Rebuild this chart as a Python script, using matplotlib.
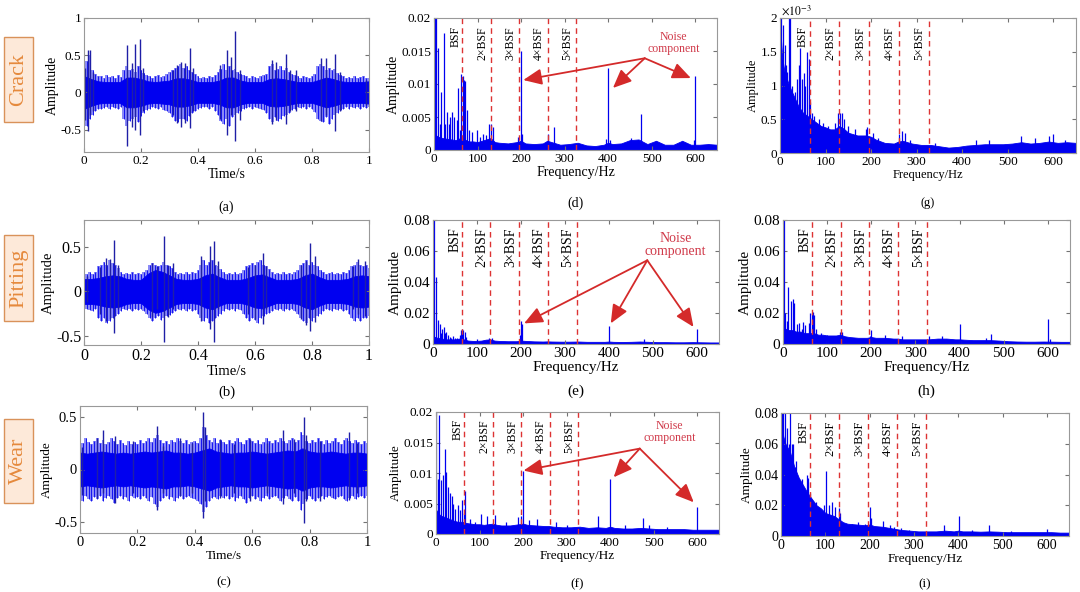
import numpy as np
import matplotlib
matplotlib.use('Agg')
import matplotlib.pyplot as plt
from matplotlib.ticker import FuncFormatter
from matplotlib.patches import Rectangle

# ---------------- time signals ----------------
# core = half width of the solid band (every 0.025 s),
# hairHi/hairLo = ragged edge of the band (every 0.01 s), spikes = the big impulses
coreT = np.linspace(0, 1, 41)
hairT = np.linspace(0, 1, 101)

crackCore = [0.22, 0.18, 0.15, 0.14, 0.14, 0.14, 0.2, 0.2, 0.18, 0.15,
             0.14, 0.15, 0.16, 0.19, 0.19, 0.17, 0.14, 0.14, 0.14, 0.16,
             0.2, 0.2, 0.16, 0.14, 0.14, 0.14, 0.18, 0.19, 0.18, 0.16,
             0.14, 0.14, 0.14, 0.17, 0.2, 0.18, 0.15, 0.14, 0.14, 0.14, 0.15]
crackHairHi = [0.35, 0.42, 0.5, 0.3, 0.25, 0.22,
               0.22, 0.2, 0.24, 0.21, 0.22, 0.2, 0.23, 0.21,
               0.3, 0.35, 0.3, 0.32, 0.28, 0.35, 0.3, 0.26, 0.24,
               0.22, 0.2, 0.22, 0.24, 0.21, 0.22, 0.25, 0.28,
               0.3, 0.33, 0.35, 0.38, 0.33, 0.35, 0.3, 0.28, 0.25,
               0.22, 0.2, 0.21, 0.2, 0.22, 0.21, 0.24, 0.28,
               0.32, 0.38, 0.3, 0.35, 0.3, 0.32, 0.28, 0.25, 0.23,
               0.22, 0.2, 0.22, 0.21, 0.2, 0.22, 0.23, 0.25,
               0.35, 0.38, 0.3, 0.32, 0.35, 0.3, 0.33, 0.28, 0.25,
               0.24, 0.22, 0.2, 0.22, 0.21, 0.2, 0.22, 0.25,
               0.35, 0.38, 0.35, 0.3, 0.33, 0.3, 0.32, 0.26, 0.24,
               0.22, 0.2, 0.21, 0.2, 0.22, 0.2, 0.21, 0.22, 0.2, 0.2]
crackHairLo = [-0.4, -0.45, -0.35, -0.3, -0.25, -0.22,
               -0.22, -0.21, -0.2, -0.22, -0.2, -0.21, -0.22, -0.2,
               -0.35, -0.45, -0.38, -0.35, -0.33, -0.4, -0.32, -0.28, -0.24,
               -0.22, -0.2, -0.21, -0.22, -0.2, -0.23, -0.25, -0.28,
               -0.33, -0.38, -0.4, -0.36, -0.35, -0.38, -0.32, -0.28, -0.25,
               -0.22, -0.21, -0.2, -0.2, -0.22, -0.2, -0.25, -0.3,
               -0.38, -0.42, -0.35, -0.45, -0.33, -0.3, -0.28, -0.25, -0.22,
               -0.21, -0.2, -0.22, -0.2, -0.21, -0.22, -0.24, -0.28,
               -0.35, -0.4, -0.33, -0.38, -0.35, -0.32, -0.3, -0.27, -0.24,
               -0.22, -0.2, -0.21, -0.2, -0.22, -0.2, -0.22, -0.26,
               -0.36, -0.38, -0.4, -0.33, -0.42, -0.35, -0.3, -0.27, -0.24,
               -0.22, -0.2, -0.22, -0.2, -0.21, -0.2, -0.22, -0.2, -0.21, -0.2]
crackSpikeT = [0.004, 0.015, 0.02, 0.03, 0.15, 0.167, 0.18, 0.196, 0.208, 0.313,
               0.325, 0.342, 0.354, 0.371, 0.383, 0.477, 0.5, 0.515, 0.53, 0.547,
               0.658, 0.675, 0.708, 0.722, 0.745, 0.833, 0.85, 0.88, 0.897, 0.99]
crackSpikeUp = [0.33, 0.57, 0.57, 0.28, 0.64, 0.39, 0.65, 0.72, 0.33, 0.3,
                0.37, 0.41, 0.39, 0.6, 0.33, 0.37, 0.57, 0.48, 0.83, 0.3,
                0.43, 0.41, 0.51, 0.3, 0.3, 0.46, 0.46, 0.51, 0.28, 0.17]
crackSpikeDown = [-0.37, -0.52, -0.3, -0.25, -0.72, -0.46, -0.5, -0.57, -0.25, -0.3,
                  -0.41, -0.46, -0.41, -0.48, -0.25, -0.35, -0.57, -0.3, -0.65, -0.37,
                  -0.43, -0.37, -0.43, -0.25, -0.25, -0.39, -0.3, -0.52, -0.25, -0.17]

pittingCore = [0.14, 0.14, 0.15, 0.17, 0.18, 0.17, 0.14, 0.13, 0.13, 0.2,
               0.24, 0.22, 0.18, 0.14, 0.13, 0.13, 0.14, 0.18, 0.2, 0.16,
               0.13, 0.13, 0.13, 0.15, 0.18, 0.19, 0.16, 0.13, 0.13, 0.13,
               0.14, 0.18, 0.2, 0.16, 0.13, 0.13, 0.13, 0.14, 0.17, 0.18, 0.17]
pittingHairHi = [0.22, 0.2, 0.22, 0.2, 0.22,
                 0.28, 0.3, 0.33, 0.3, 0.35, 0.32, 0.3, 0.26,
                 0.22, 0.2, 0.21, 0.2, 0.22, 0.2, 0.21, 0.2, 0.22, 0.24,
                 0.3, 0.32, 0.3, 0.28, 0.3, 0.33, 0.3, 0.28, 0.26,
                 0.22, 0.2, 0.21, 0.2, 0.22, 0.2, 0.22, 0.21, 0.24,
                 0.3, 0.35, 0.3, 0.33, 0.35, 0.3, 0.28, 0.25,
                 0.22, 0.2, 0.21, 0.2, 0.22, 0.2, 0.21, 0.24,
                 0.28, 0.3, 0.32, 0.3, 0.33, 0.35, 0.3, 0.28, 0.25,
                 0.22, 0.2, 0.21, 0.2, 0.22, 0.2, 0.21, 0.2, 0.22, 0.24,
                 0.3, 0.32, 0.35, 0.3, 0.33, 0.3, 0.28, 0.24,
                 0.22, 0.2, 0.21, 0.22, 0.2, 0.21, 0.2, 0.22, 0.21, 0.24,
                 0.28, 0.3, 0.33, 0.3, 0.28, 0.3, 0.26]
pittingHairLo = [-0.22, -0.2, -0.21, -0.22, -0.2,
                 -0.3, -0.33, -0.3, -0.35, -0.33, -0.3, -0.28, -0.25,
                 -0.22, -0.2, -0.21, -0.2, -0.22, -0.2, -0.21, -0.2, -0.22, -0.25,
                 -0.3, -0.33, -0.3, -0.28, -0.32, -0.3, -0.28, -0.26, -0.24,
                 -0.22, -0.2, -0.21, -0.2, -0.22, -0.2, -0.22, -0.21, -0.25,
                 -0.3, -0.33, -0.3, -0.35, -0.33, -0.3, -0.28, -0.25,
                 -0.22, -0.2, -0.21, -0.2, -0.22, -0.2, -0.21, -0.25,
                 -0.3, -0.33, -0.3, -0.32, -0.35, -0.3, -0.28, -0.25, -0.24,
                 -0.22, -0.2, -0.21, -0.2, -0.22, -0.2, -0.21, -0.2, -0.22, -0.25,
                 -0.3, -0.33, -0.35, -0.3, -0.33, -0.3, -0.28, -0.25,
                 -0.22, -0.2, -0.21, -0.22, -0.2, -0.21, -0.2, -0.22, -0.21, -0.25,
                 -0.3, -0.33, -0.3, -0.33, -0.3, -0.3, -0.28]
pittingSpikeT = [0.012, 0.056, 0.077, 0.091, 0.105, 0.12, 0.237, 0.255, 0.282, 0.296,
                 0.313, 0.412, 0.442, 0.457, 0.47, 0.576, 0.6, 0.629, 0.64, 0.763,
                 0.78, 0.792, 0.81, 0.944, 0.961, 0.985]
pittingSpikeUp = [0.17, 0.27, 0.38, 0.36, 0.58, 0.3, 0.32, 0.29, 0.62, 0.3,
                  0.32, 0.4, 0.51, 0.57, 0.34, 0.27, 0.3, 0.43, 0.29, 0.3,
                  0.34, 0.54, 0.4, 0.29, 0.36, 0.34]
pittingSpikeDown = [-0.12, -0.25, -0.33, -0.31, -0.47, -0.2, -0.29, -0.2, -0.57, -0.29,
                    -0.2, -0.33, -0.42, -0.57, -0.2, -0.25, -0.31, -0.36, -0.2, -0.31,
                    -0.38, -0.44, -0.34, -0.2, -0.25, -0.27]

wearCore = [0.16, 0.15, 0.16, 0.17, 0.16, 0.15, 0.16, 0.15, 0.16, 0.17,
            0.16, 0.17, 0.18, 0.16, 0.16, 0.15, 0.16, 0.18, 0.2, 0.17,
            0.16, 0.15, 0.16, 0.16, 0.17, 0.16, 0.15, 0.16, 0.17, 0.18,
            0.17, 0.2, 0.17, 0.16, 0.16, 0.17, 0.16, 0.15, 0.16, 0.16, 0.15]
wearHairHi = [0.28, 0.25, 0.3, 0.26, 0.24, 0.27, 0.3, 0.25, 0.28, 0.24,
              0.26, 0.3, 0.27, 0.24, 0.28, 0.25, 0.23, 0.27, 0.24, 0.26,
              0.24, 0.28, 0.25, 0.27, 0.3, 0.26, 0.3, 0.33, 0.28, 0.25,
              0.27, 0.24, 0.28, 0.26, 0.3, 0.27, 0.25, 0.28, 0.24, 0.26,
              0.27, 0.25, 0.3, 0.4, 0.33, 0.28, 0.26, 0.3, 0.25, 0.28,
              0.26, 0.24, 0.28, 0.25, 0.27, 0.3, 0.26, 0.24, 0.28, 0.3,
              0.27, 0.25, 0.28, 0.24, 0.26, 0.3, 0.27, 0.25, 0.28, 0.26,
              0.3, 0.27, 0.25, 0.28, 0.3, 0.26, 0.28, 0.35, 0.33, 0.27,
              0.25, 0.28, 0.26, 0.3, 0.27, 0.24, 0.28, 0.25, 0.27, 0.3,
              0.26, 0.24, 0.28, 0.3, 0.27, 0.25, 0.28, 0.26, 0.24, 0.27, 0.25]
wearHairLo = [-0.27, -0.3, -0.25, -0.28, -0.3, -0.26, -0.28, -0.25, -0.3, -0.27,
              -0.25, -0.28, -0.32, -0.27, -0.25, -0.28, -0.26, -0.3, -0.25, -0.27,
              -0.26, -0.28, -0.25, -0.27, -0.3, -0.26, -0.33, -0.35, -0.3, -0.27,
              -0.25, -0.28, -0.26, -0.3, -0.27, -0.25, -0.28, -0.26, -0.25, -0.27,
              -0.28, -0.3, -0.33, -0.4, -0.35, -0.3, -0.27, -0.26, -0.28, -0.25,
              -0.27, -0.25, -0.28, -0.26, -0.3, -0.27, -0.25, -0.28, -0.32, -0.27,
              -0.25, -0.28, -0.26, -0.3, -0.27, -0.25, -0.28, -0.26, -0.25, -0.27,
              -0.3, -0.27, -0.25, -0.28, -0.3, -0.26, -0.3, -0.38, -0.33, -0.28,
              -0.25, -0.28, -0.3, -0.27, -0.25, -0.28, -0.26, -0.25, -0.27, -0.28,
              -0.26, -0.25, -0.28, -0.3, -0.27, -0.25, -0.28, -0.26, -0.25, -0.27, -0.25]
wearSpikeT = [0.006, 0.058, 0.081, 0.122, 0.186, 0.267, 0.29, 0.349, 0.39, 0.43,
              0.436, 0.488, 0.535, 0.593, 0.651, 0.709, 0.744, 0.779, 0.788, 0.837,
              0.936, 0.965]
wearSpikeUp = [0.21, 0.3, 0.37, 0.32, 0.27, 0.41, 0.22, 0.3, 0.25, 0.54,
               0.4, 0.29, 0.24, 0.29, 0.25, 0.37, 0.29, 0.5, 0.33, 0.27,
               0.35, 0.25]
wearSpikeDown = [-0.24, -0.27, -0.22, -0.32, -0.22, -0.38, -0.22, -0.25, -0.22, -0.46,
                 -0.3, -0.27, -0.22, -0.3, -0.22, -0.33, -0.22, -0.51, -0.3, -0.3,
                 -0.29, -0.22]

# ---------------- spectra (noise floor + spectral lines) ----------------
floorF = [0, 5, 10, 20, 30, 40, 50, 60, 70, 80,
          90, 100, 110, 120, 130, 140, 150, 170, 190, 200,
          210, 230, 250, 260, 270, 290, 310, 330, 350, 370,
          390, 400, 410, 430, 450, 470, 490, 510, 530, 550,
          570, 590, 610, 630, 650]

crackSpecFloor = [0.003, 0.0022, 0.002, 0.0018, 0.0017, 0.0016, 0.0015, 0.0018, 0.0016, 0.0013,
                  0.0013, 0.0012, 0.0014, 0.0016, 0.0018, 0.0012, 0.0011, 0.001, 0.0012, 0.0014,
                  0.001, 0.0009, 0.001, 0.0014, 0.0012, 0.0008, 0.0009, 0.0011, 0.0007, 0.0006,
                  0.0008, 0.0011, 0.0009, 0.001, 0.0015, 0.0016, 0.0009, 0.0014, 0.0008, 0.0008,
                  0.0014, 0.0008, 0.0008, 0.0009, 0.0008]
crackSpecF = [2, 5, 10, 14, 17, 22, 26, 30, 34, 37,
              42, 47, 52, 55, 59, 63, 66, 69, 72, 76,
              80, 88, 98, 106, 113, 120, 126, 130, 135, 192,
              199, 203, 262, 275, 395, 400, 405, 452, 475, 598, 600]
crackSpecA = [0.021, 0.0205, 0.0155, 0.004, 0.0088, 0.0177, 0.004, 0.0057, 0.004, 0.005,
              0.0057, 0.005, 0.0045, 0.0094, 0.003, 0.0115, 0.0112, 0.0106, 0.0105, 0.006,
              0.003, 0.0028, 0.003, 0.002, 0.0025, 0.0022, 0.004, 0.004, 0.0035, 0.002,
              0.015, 0.0025, 0.0025, 0.0035, 0.0016, 0.0125, 0.0015, 0.0018, 0.0055, 0.0015, 0.0112]

pittingSpecFloor = [0.005, 0.0045, 0.004, 0.0035, 0.003, 0.003, 0.003, 0.0035, 0.003, 0.0022,
                    0.002, 0.002, 0.0022, 0.0028, 0.003, 0.0022, 0.002, 0.0018, 0.0018, 0.0022,
                    0.002, 0.0017, 0.0016, 0.0017, 0.0016, 0.0015, 0.0015, 0.0016, 0.0014, 0.0014,
                    0.0014, 0.0016, 0.0014, 0.0013, 0.0014, 0.0016, 0.0014, 0.0012, 0.0012, 0.0011,
                    0.0011, 0.0012, 0.0011, 0.001, 0.001]
pittingSpecF = [1, 3, 7, 11, 15, 18, 21, 24, 27, 30,
                34, 38, 42, 45, 50, 55, 62, 64, 67, 69,
                72, 75, 100, 128, 133, 198, 200, 203, 400, 480, 600]
pittingSpecA = [0.085, 0.08, 0.043, 0.0155, 0.013, 0.007, 0.010, 0.011, 0.007, 0.008,
                0.006, 0.0047, 0.004, 0.005, 0.004, 0.004, 0.006, 0.009, 0.0095, 0.009,
                0.008, 0.0047, 0.003, 0.004, 0.0038, 0.006, 0.0148, 0.013, 0.0118, 0.003, 0.0095]

wearSpecFloor = [0.004, 0.0035, 0.003, 0.0028, 0.0025, 0.0022, 0.002, 0.002, 0.0018, 0.0017,
                 0.0016, 0.0016, 0.0015, 0.0016, 0.0017, 0.0015, 0.0014, 0.0014, 0.0016, 0.0017,
                 0.0015, 0.0014, 0.0013, 0.0013, 0.0012, 0.0011, 0.0011, 0.0012, 0.001, 0.0011,
                 0.001, 0.0012, 0.001, 0.0009, 0.0009, 0.001, 0.0009, 0.0008, 0.0008, 0.0008,
                 0.0008, 0.0007, 0.0007, 0.0007, 0.0007]
wearSpecF = [1, 4, 7, 11, 15, 20, 24, 27, 33, 36,
             40, 44, 50, 55, 59, 64, 67, 78, 90, 104,
             116, 135, 160, 189, 195, 200, 214, 233, 275, 300,
             373, 400, 433, 475, 489, 530, 600]
wearSpecA = [0.021, 0.009, 0.0195, 0.0088, 0.0096, 0.0139, 0.0101, 0.0077, 0.0068, 0.0063,
             0.005, 0.0041, 0.0047, 0.004, 0.0055, 0.0035, 0.007, 0.0025, 0.002, 0.0033,
             0.003, 0.0031, 0.002, 0.0028, 0.003, 0.0103, 0.0023, 0.0025, 0.002, 0.0015,
             0.0029, 0.009, 0.0015, 0.0026, 0.0015, 0.0012, 0.0044]

crackEnvFloor = [0.0019, 0.0014, 0.0012, 0.001, 0.00085, 0.0007, 0.0006, 0.00055, 0.0005, 0.00045,
                 0.0004, 0.00038, 0.00035, 0.00035, 0.0004, 0.00036, 0.0003, 0.00026, 0.00026, 0.00024,
                 0.0002, 0.00015, 0.00014, 0.00017, 0.00018, 0.00014, 0.00012, 0.00012, 0.0001, 0.00008,
                 0.00009, 0.0001, 0.00011, 0.00012, 0.00013, 0.00013, 0.00013, 0.00014, 0.00016, 0.00014,
                 0.00015, 0.00017, 0.00015, 0.00016, 0.00015]
crackEnvF = [3, 7, 10, 13, 16, 20, 23, 27, 33, 38,
             41, 45, 48, 52, 55, 59, 63, 66, 70, 75,
             85, 95, 105, 120, 128, 132, 137, 141, 150, 165,
             188, 192, 205, 215, 262, 268, 275, 285, 340, 430,
             460, 530, 560, 590, 600, 625]
crackEnvA = [0.0025, 0.0019, 0.0016, 0.0013, 0.0012, 0.0025, 0.0025, 0.001, 0.0009, 0.0011,
             0.0013, 0.00155, 0.0011, 0.00118, 0.001, 0.0015, 0.0014, 0.00075, 0.0006, 0.00055,
             0.0005, 0.00045, 0.0004, 0.00045, 0.0006, 0.0006, 0.0006, 0.0005, 0.0004, 0.00035,
             0.00035, 0.00038, 0.0003, 0.00022, 0.00028, 0.00032, 0.0003, 0.0002, 0.00015, 0.0002,
             0.0002, 0.00025, 0.00022, 0.00025, 0.00028, 0.0002]

pittingEnvFloor = [0.012, 0.01, 0.009, 0.009, 0.008, 0.008, 0.007, 0.007, 0.007, 0.006,
                   0.006, 0.0055, 0.0055, 0.0055, 0.006, 0.005, 0.0045, 0.004, 0.004, 0.0045,
                   0.004, 0.004, 0.0035, 0.0035, 0.003, 0.003, 0.003, 0.003, 0.0035, 0.0035,
                   0.003, 0.003, 0.0028, 0.0025, 0.0025, 0.0025, 0.0022, 0.0018, 0.0016, 0.0015,
                   0.0015, 0.0016, 0.0015, 0.0014, 0.0014]
pittingEnvF = [1, 3, 5, 8, 12, 17, 22, 26, 31, 37,
               42, 45, 50, 58, 62, 65, 67, 71, 74, 85,
               100, 130, 133, 198, 200, 230, 270, 330, 360, 400,
               460, 470, 600, 604]
pittingEnvA = [0.085, 0.085, 0.02, 0.015, 0.037, 0.0276, 0.029, 0.0266, 0.013, 0.0134,
               0.01, 0.014, 0.012, 0.0134, 0.02, 0.02, 0.0205, 0.019, 0.01, 0.007,
               0.006, 0.008, 0.0075, 0.005, 0.0088, 0.006, 0.005, 0.005, 0.005, 0.013,
               0.004, 0.0067, 0.0161, 0.003]

wearEnvFloor = [0.08, 0.065, 0.06, 0.055, 0.045, 0.038, 0.033, 0.028, 0.024, 0.02,
                0.018, 0.015, 0.014, 0.013, 0.011, 0.009, 0.008, 0.0075, 0.007, 0.0075,
                0.0065, 0.006, 0.005, 0.0045, 0.004, 0.0035, 0.003, 0.003, 0.003, 0.0035,
                0.003, 0.0035, 0.003, 0.003, 0.0028, 0.003, 0.0028, 0.0025, 0.0025, 0.0025,
                0.0025, 0.0025, 0.0025, 0.0022, 0.0022]
wearEnvF = [2, 5, 8, 10, 13, 17, 20, 24, 28, 31,
            34, 37, 40, 44, 48, 52, 58, 62, 66, 70,
            73, 80, 85, 96, 102, 108, 114, 121, 130, 134,
            160, 174, 190, 200, 203, 230, 245, 255, 271, 290,
            368, 402, 430, 469, 520, 600]
wearEnvA = [0.085, 0.085, 0.06, 0.085, 0.07, 0.06, 0.085, 0.06, 0.06, 0.045,
            0.049, 0.04, 0.037, 0.036, 0.037, 0.03, 0.04, 0.038, 0.028, 0.023,
            0.023, 0.022, 0.018, 0.02, 0.042, 0.02, 0.022, 0.019, 0.018, 0.015,
            0.008, 0.009, 0.008, 0.019, 0.012, 0.01, 0.007, 0.006, 0.005, 0.004,
            0.007, 0.0128, 0.004, 0.007, 0.0035, 0.0048]

bsf = 65.3
bsfLabels = ['BSF', '2×BSF', '3×BSF', '4×BSF', '5×BSF']
faultNames = ['Crack', 'Pitting', 'Wear']

# noise-component annotation: text centre, arrow origin, arrow tips
crackNoise = dict(text=(550, 0.0162), origin=(484, 0.0139), targets=[(205, 0.0106), (411, 0.0094), (590, 0.0109)])
pittingNoise = dict(text=(551, 0.064), origin=(487, 0.054), targets=[(207, 0.0133), (404, 0.0133), (592, 0.011)])
wearNoise = dict(text=(536, 0.0168), origin=(468, 0.014), targets=[(201, 0.0104), (408, 0.0093), (592, 0.0052)])

plt.rcParams['font.family'] = ['Liberation Serif', 'DejaVu Serif']
plt.rcParams['mathtext.fontset'] = 'stix'

BLUE = '#0000f0'
FUZZ = '#8a8af7'
DARK = '#1f1fa6'
RED = '#dd3333'
W, H = 1080, 592

fig = plt.figure(figsize=(W / 100, H / 100), dpi=100)


def axAt(l, t, r, b):
    return fig.add_axes([l / W, 1 - b / H, (r - l) / W, (b - t) / H])


def gFmt(v, p):
    return '%g' % round(v, 6)


def styleAx(ax, fs):
    ax.tick_params(direction='in', top=True, right=True, labelsize=fs, length=3,
                   color='0.45', pad=2)
    for s in ax.spines.values():
        s.set_color('0.6')
        s.set_linewidth(0.8)
    ax.xaxis.set_major_formatter(FuncFormatter(gFmt))
    ax.yaxis.set_major_formatter(FuncFormatter(gFmt))


def drawTime(ax, core, hairHi, hairLo, spT, spUp, spDown, ylim, yticks, fs, lfs, caption, capY):
    core = np.asarray(core)
    # light ragged fringe, thin hairs, then the solid core and the big impulses
    ax.fill_between(hairT, hairLo, hairHi, step='mid', color=FUZZ, lw=0)
    ax.vlines(hairT, hairLo, hairHi, color=BLUE, lw=0.6)
    ax.fill_between(coreT, -core, core, color=BLUE, lw=0.6, edgecolor=BLUE)
    ax.vlines(spT, spDown, spUp, color=DARK, lw=1.0)
    ax.set_xlim(0, 1)
    ax.set_ylim(*ylim)
    ax.set_xticks([0, 0.2, 0.4, 0.6, 0.8, 1])
    ax.set_yticks(yticks)
    styleAx(ax, fs)
    ax.set_xlabel('Time/s', fontsize=lfs, labelpad=1)
    ax.set_ylabel('Amplitude', fontsize=lfs, labelpad=1)
    ax.text(0.5, capY, caption, transform=ax.transAxes, ha='center', va='center', fontsize=lfs)


def drawSpec(ax, floor, spF, spA, ymax, yticks, fs, lfs, caption, capY, noise=None, scale=None):
    ax.fill_between(floorF, 0, floor, color=BLUE, lw=0.6, edgecolor=BLUE)
    ax.vlines(spF, 0, spA, color=BLUE, lw=0.9)
    for k in range(5):
        x = (k + 1) * bsf
        ax.axvline(x, color=RED, lw=1.0, dashes=(4, 3))
        off = 15 if k == 0 else 20
        ax.text(x - off, ymax * 0.94, bsfLabels[k], rotation=90, ha='center', va='top',
                fontsize=fs - 1)
    ax.set_xlim(0, 650)
    ax.set_ylim(0, ymax)
    ax.set_xticks(range(0, 700, 100))
    ax.set_yticks(yticks)
    styleAx(ax, fs)
    if scale:
        ax.yaxis.set_major_formatter(FuncFormatter(lambda v, p: '%g' % round(v / scale, 6)))
        ax.text(0.005, 1.0, r'$\times10^{-3}$', transform=ax.transAxes, ha='left', va='bottom',
                fontsize=fs - 1)
    ax.set_xlabel('Frequency/Hz', fontsize=lfs, labelpad=1)
    ax.set_ylabel('Amplitude', fontsize=lfs, labelpad=1)
    ax.text(0.5, capY, caption, transform=ax.transAxes, ha='center', va='center', fontsize=lfs)
    if noise:
        ax.text(noise['text'][0], noise['text'][1], 'Noise\ncomponent', color='#d03a4a',
                ha='center', va='center', fontsize=fs - 1, linespacing=1.0)
        for tgt in noise['targets']:
            ax.annotate('', xy=tgt, xytext=noise['origin'],
                        arrowprops=dict(arrowstyle='-|>,head_length=0.8,head_width=0.35',
                                        color='#d42a2a', lw=1.3, mutation_scale=14,
                                        shrinkA=0, shrinkB=0))


# column 1: time waveforms
axA = axAt(84, 18, 369, 152)
drawTime(axA, crackCore, crackHairHi, crackHairLo, crackSpikeT, crackSpikeUp, crackSpikeDown,
         (-0.8, 1), [-0.5, 0, 0.5, 1], 9.5, 10, '(a)', -0.41)
axB = axAt(84, 220, 369, 345)
drawTime(axB, pittingCore, pittingHairHi, pittingHairLo, pittingSpikeT, pittingSpikeUp,
         pittingSpikeDown, (-0.6, 0.8), [-0.5, 0, 0.5], 11.5, 10.5, '(b)', -0.38)
axC = axAt(80, 406, 367, 533)
drawTime(axC, wearCore, wearHairHi, wearHairLo, wearSpikeT, wearSpikeUp, wearSpikeDown,
         (-0.6, 0.6), [-0.5, 0, 0.5], 10.5, 9.5, '(c)', -0.39)

# column 2: spectra
axD = axAt(434, 18, 717, 150)
drawSpec(axD, crackSpecFloor, crackSpecF, crackSpecA, 0.02,
         [0, 0.005, 0.01, 0.015, 0.02], 9.5, 10, '(d)', -0.4, crackNoise)
axE = axAt(433, 220, 719, 344)
drawSpec(axE, pittingSpecFloor, pittingSpecF, pittingSpecA, 0.08,
         [0, 0.02, 0.04, 0.06, 0.08], 11, 11, '(e)', -0.38, pittingNoise)
axF = axAt(436, 412, 719, 534)
drawSpec(axF, wearSpecFloor, wearSpecF, wearSpecA, 0.02,
         [0, 0.005, 0.01, 0.015, 0.02], 9.5, 9.5, '(f)', -0.41, wearNoise)

# column 3: envelope spectra
axG = axAt(780, 18, 1076, 153)
drawSpec(axG, crackEnvFloor, crackEnvF, crackEnvA, 0.002,
         [0, 0.0005, 0.001, 0.0015, 0.002], 9.5, 9, '(g)', -0.37, scale=0.001)
axH = axAt(783, 220, 1070, 344)
drawSpec(axH, pittingEnvFloor, pittingEnvF, pittingEnvA, 0.08,
         [0, 0.02, 0.04, 0.06, 0.08], 11, 11, '(h)', -0.38)
axI = axAt(781, 413, 1069, 536)
drawSpec(axI, wearEnvFloor, wearEnvF, wearEnvA, 0.08,
         [0, 0.02, 0.04, 0.06, 0.08], 10, 9.5, '(i)', -0.39)

# fault-type tags on the left
tagBoxes = [(4, 37, 33, 122), (4, 235, 33, 321), (4, 419, 33, 503)]
for name, (l, t, r, b) in zip(faultNames, tagBoxes):
    fig.patches.append(Rectangle((l / W, 1 - b / H), (r - l) / W, (b - t) / H,
                                 transform=fig.transFigure, facecolor='#fde9d9',
                                 edgecolor='#d9925a', lw=1.0))
    fig.text((l + r) / 2 / W, 1 - (t + b) / 2 / H, name, rotation=90, ha='center',
             va='center', fontsize=16, color='#e5893c')

fig.savefig('out.png', dpi=100)
